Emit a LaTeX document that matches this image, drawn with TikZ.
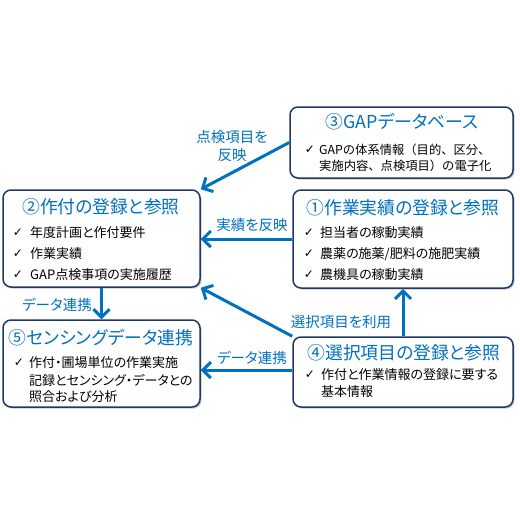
\documentclass[tikz,border=0pt]{standalone}
\usepackage{fontspec}
\setmainfont{Noto Sans CJK JP}[RawFeature=+palt]
\newfontfamily\jpfull{Noto Sans CJK JP}
\newfontfamily\chk{DejaVu Sans}
\usetikzlibrary{arrows.meta,shadows}
\definecolor{navy}{RGB}{32,56,100}
\definecolor{tblue}{RGB}{0,112,192}
\definecolor{ablue}{RGB}{0,112,192}
\begin{document}
\begin{tikzpicture}[x=1pt,y=-1pt,
 box/.style={draw=navy, line width=1.5pt, rounded corners=8pt, fill=white,
   drop shadow={shadow xshift=1.5pt,shadow yshift=-1.5pt,opacity=0.3,fill=black!70}, inner sep=0pt},
 ttl/.style={text=tblue, font=\fontsize{17.8}{20}\selectfont, inner sep=0pt},
 itm/.style={anchor=west, font=\fontsize{13}{15}\selectfont, inner sep=0pt},
 itmf/.style={anchor=west, font=\jpfull\fontsize{12.3}{15}\selectfont, inner sep=0pt},
 ck/.style={font=\chk\fontsize{12}{14}\selectfont, inner sep=0pt},
 lbl/.style={text=tblue, font=\fontsize{14.5}{18}\selectfont, inner sep=0pt, align=center},
 arr/.style={draw=ablue, line width=3pt, -{Straight Barb[length=8pt,width=16pt]}}]
\useasboundingbox (0,0) rectangle (520,520);

% boxes
\node[box, minimum width=223pt, minimum height=71pt] (b3) at (401.5,142.5) {};
\node[box, minimum width=220pt, minimum height=98pt] (b1) at (403,239) {};
\node[box, minimum width=197pt, minimum height=97pt] (b2) at (101.5,238.5) {};
\node[box, minimum width=197pt, minimum height=87pt] (b5) at (101.5,363.5) {};
\node[box, minimum width=220pt, minimum height=70pt] (b4) at (403,372) {};

% box 3
\node[ttl] (t3) at (402,122) {③GAPデータベース};
\node[ck] (c3a) at (310,150) {✓};
\node[itmf] (l3a) at (319,150) {GAPの体系情報（目的、区分、};
\node[itmf] (l3b) at (319,166) {実施内容、点検項目）の電子化};

% box 1
\node[ttl] (t1) at (403,208) {①作業実績の登録と参照};
\node[ck] (c1a) at (309,233) {✓};
\node[itm] (l1a) at (320,233) {担当者の稼動実績};
\node[ck] (c1b) at (309,254) {✓};
\node[itm] (l1b) at (320,254) {農薬の施薬/肥料の施肥実績};
\node[ck] (c1c) at (309,275) {✓};
\node[itm] (l1c) at (320,275) {農機具の稼動実績};

% box 2
\node[ttl] (t2) at (101,207) {②作付の登録と参照};
\node[ck] (c2a) at (18,233) {✓};
\node[itm] (l2a) at (30,233) {年度計画と作付要件};
\node[ck] (c2b) at (18,254) {✓};
\node[itm] (l2b) at (30,254) {作業実績};
\node[ck] (c2c) at (18,275) {✓};
\node[itm] (l2c) at (30,275) {GAP点検事項の実施履歴};

% box 5
\node[ttl] (t5) at (101,338) {⑤センシングデータ連携};
\node[ck] (c5a) at (19,363) {✓};
\node[itm] (l5a) at (29,363) {作付・圃場単位の作業実施};
\node[itm] (l5b) at (29,380) {記録とセンシング・データとの};
\node[itm] (l5c) at (29,397) {照合および分析};

% box 4
\node[ttl] (t4) at (404,353) {④選択項目の登録と参照};
\node[ck] (c4a) at (310,375) {✓};
\node[itm] (l4a) at (321,375) {作付と作業情報の登録に要する};
\node[itm] (l4b) at (321,392) {基本情報};

% arrows
\draw[arr] (b3.west) -- (b2.north east);
\draw[arr] (b1.west) -- (b1.west -| b2.east);
\draw[arr] (b4.north west) -- (b2.south east);
\draw[arr] (b4.west) ++(0,-2) coordinate (a4s) -- (a4s -| b5.east);
\draw[arr] (b4.north) -- (b1.south);
\draw[arr] (b2.south) -- (b5.north);

% labels
\node[lbl] (k1) at (232,146) {点検項目を\\反映};
\node[lbl] (k2) at (252,225) {実績を反映};
\node[lbl] (k3) at (341,322) {選択項目を利用};
\node[lbl] (k4) at (57,305) {データ連携};
\node[lbl] (k5) at (252,358) {データ連携};
\end{tikzpicture}
\end{document}
